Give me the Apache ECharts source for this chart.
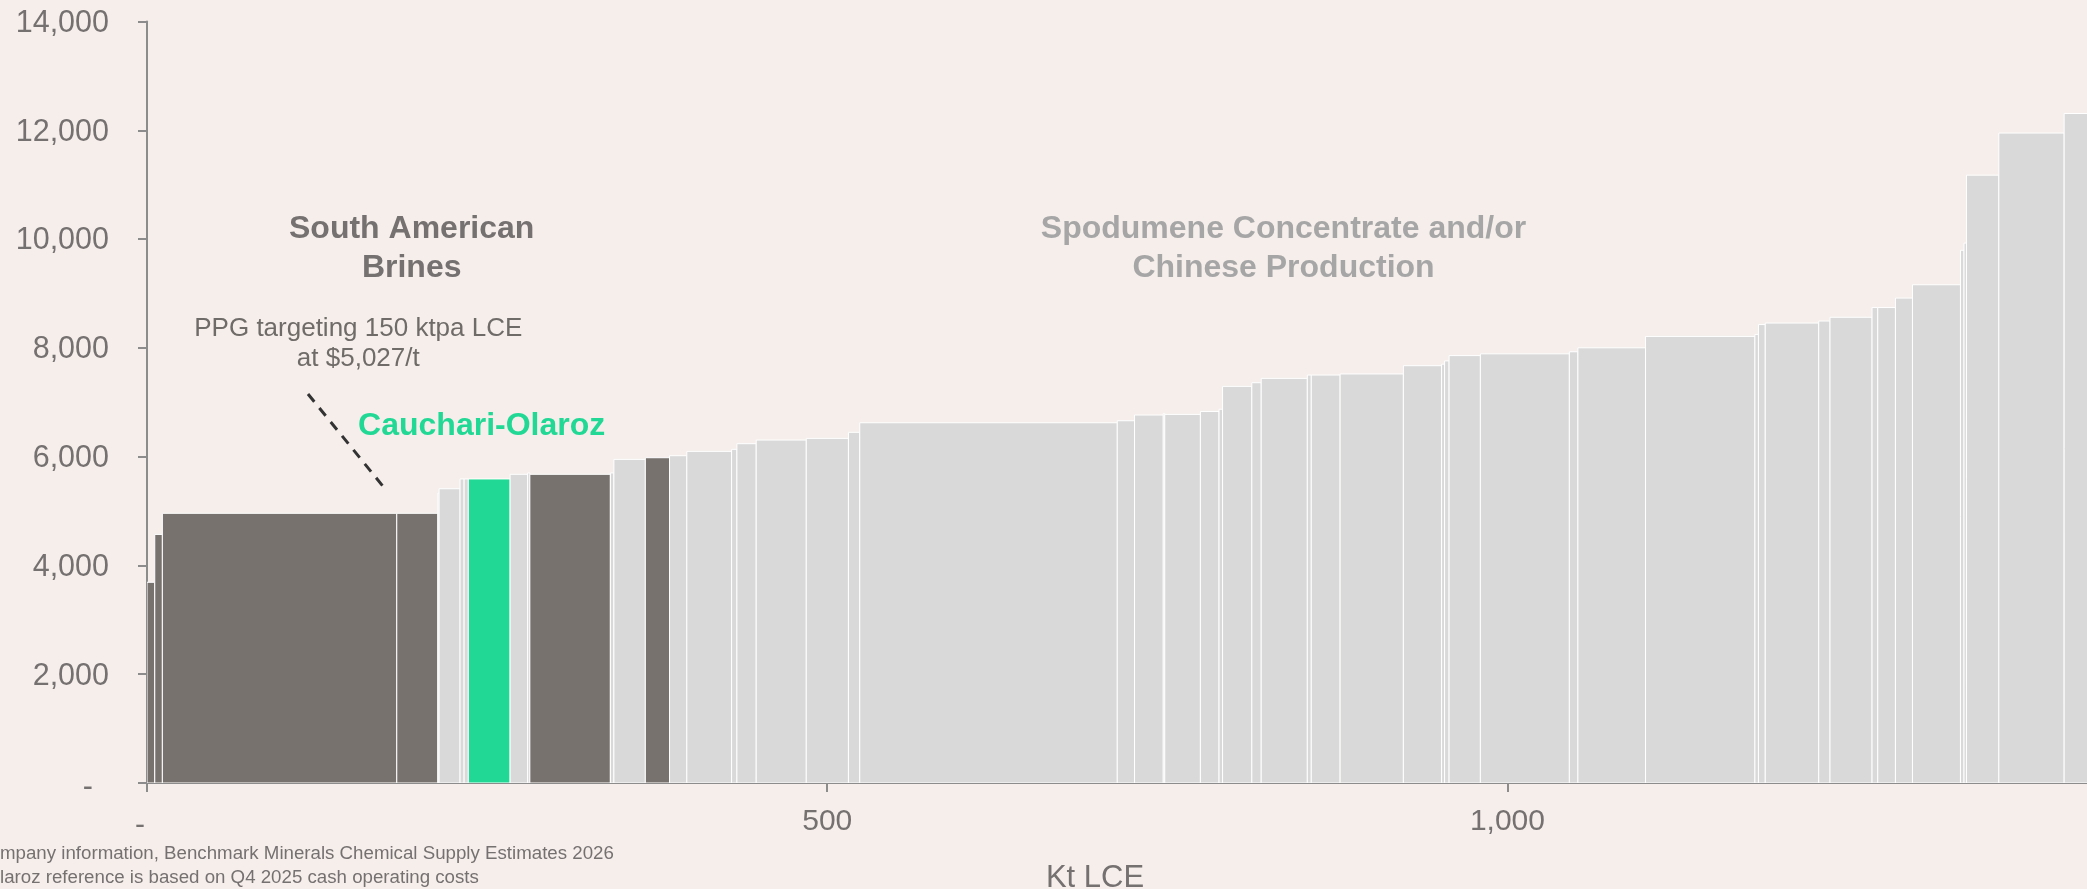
<!DOCTYPE html>
<html>
<head>
<meta charset="utf-8">
<script src="https://cdn.jsdelivr.net/npm/echarts@6/dist/echarts.min.js"></script>
<style>
html,body{margin:0;padding:0;background:#f5eeeb;}
#c{width:2087px;height:889px;}
</style>
</head>
<body>
<div id="c"></div>
<script>
// Capacity of each operation (Kt LCE), in cost order
const capacity = [5.7, 5.6, 172.3, 30.2, 0.9, 15.4, 3.0, 3.1, 30.7, 12.9, 1.6, 59.2, 2.6, 23.1, 17.8,
  12.7, 32.9, 3.9, 14.2, 36.8, 31.0, 8.3, 189.3, 12.7, 21.1, 1.1, 26.2, 13.7, 2.6, 21.5,
  6.9, 33.9, 2.9, 21.2, 46.5, 28.1, 2.2, 3.3, 23.0, 65.4, 6.3, 49.7, 80.4, 2.6, 5.0,
  39.3, 8.3, 30.9, 4.2, 13.0, 12.5, 35.3, 2.6, 1.8, 23.8, 48.0, 26.0];
// Cash cost (US$/t LCE)
const cost = [3690, 4570, 4958, 4958, 5330, 5410, 5590, 5590, 5590, 5675, 5700, 5675, 5700, 5950, 5980,
  6017, 6097, 6134, 6238, 6305, 6336, 6447, 6623, 6660, 6765, 6796, 6777, 6831, 6871, 7292,
  7359, 7439, 7500, 7500, 7520, 7672, 7700, 7760, 7858, 7890, 7928, 8001, 8210, 8247, 8428,
  8456, 8493, 8562, 8741, 8741, 8915, 9160, 9794, 9926, 11175, 11949, 12309];
// Group: 0 = other (spodumene / Chinese), 1 = South American brines, 2 = Cauchari-Olaroz
const group = [1, 1, 1, 1, 0, 0, 0, 0, 2, 0, 0, 1, 0, 0, 1,
  0, 0, 0, 0, 0, 0, 0, 0, 0, 0, 0, 0, 0, 0, 0,
  0, 0, 0, 0, 0, 0, 0, 0, 0, 0, 0, 0, 0, 0, 0,
  0, 0, 0, 0, 0, 0, 0, 0, 0, 0, 0, 0];
const yTicks = [0, 2000, 4000, 6000, 8000, 10000, 12000, 14000];
const xTicks = [0, 500, 1000];

const groupColors = ['#d9d9d9', '#78726f', '#21d994'];

const data = [];
let cum = 0;
for (let i = 0; i < capacity.length; i++) {
  data.push([cum, cum + capacity[i], cost[i], group[i]]);
  cum += capacity[i];
}

const FONT = 'Liberation Sans, Arial, Helvetica, sans-serif';
const LABEL = '#767171';

function yFmt(v) {
  if (yTicks.indexOf(v) < 0) return '';
  if (v === 0) return '{d|-}';
  return '{n|' + v.toLocaleString('en-US') + '}';
}
function xFmt(v) {
  if (xTicks.indexOf(v) < 0) return '';
  if (v === 0) return '{d|-}';
  return '{n|' + v.toLocaleString('en-US') + '}';
}

const chart = echarts.init(document.getElementById('c'), null, {renderer: 'canvas'});

function txt(text, x, y, size, color, weight, align) {
  return {
    type: 'text', x: x, y: y, silent: true,
    style: {text: text, fill: color, font: (weight || 'normal') + ' ' + size + 'px ' + FONT,
      align: align || 'center', verticalAlign: 'middle'}
  };
}

chart.setOption({
  backgroundColor: '#f5eeeb',
  animation: false,
  grid: {left: 147, right: 0, top: 21.5, bottom: 106, containLabel: false},
  xAxis: {
    type: 'value', min: 0, max: 1426, interval: 500,
    axisLine: {show: true, lineStyle: {color: '#8c8c8c', width: 2}},
    axisTick: {show: true, length: 9, lineStyle: {color: '#8c8c8c', width: 2}},
    splitLine: {show: false},
    axisLabel: {
      margin: 24, fontSize: 30, color: LABEL, fontFamily: FONT, showMaxLabel: false,
      formatter: xFmt,
      rich: {
        n: {fontSize: 30, color: LABEL, fontFamily: FONT},
        d: {fontSize: 30, color: LABEL, fontFamily: FONT, padding: [4, 14, 0, 0]}
      }
    }
  },
  yAxis: {
    type: 'value', min: 0, max: 14000, interval: 2000,
    axisLine: {show: true, lineStyle: {color: '#8c8c8c', width: 2}},
    axisTick: {show: true, length: 9, lineStyle: {color: '#8c8c8c', width: 2}},
    splitLine: {show: false},
    axisLabel: {
      margin: 38, fontSize: 30, color: LABEL, fontFamily: FONT,
      formatter: yFmt,
      rich: {
        n: {fontSize: 30.5, color: LABEL, fontFamily: FONT, padding: [4, 0, 0, 0]},
        d: {fontSize: 30.5, color: LABEL, fontFamily: FONT, padding: [9, 16, 0, 0]}
      }
    }
  },
  series: [{
    type: 'custom',
    clip: true,
    encode: {x: [0, 1], y: 2},
    data: data,
    renderItem: function (params, api) {
      const x0 = api.value(0), x1 = api.value(1), y = api.value(2), g = api.value(3);
      const p0 = api.coord([x0, y]);
      const p1 = api.coord([x1, 0]);
      return {
        type: 'rect',
        shape: {x: p0[0], y: p0[1], width: p1[0] - p0[0], height: p1[1] - p0[1]},
        style: {fill: groupColors[g], stroke: '#ffffff', lineWidth: 1}
      };
    }
  }],
  graphic: [
    txt('South American', 411.7, 229, 32, LABEL, 'bold'),
    txt('Brines', 411.7, 268, 32, LABEL, 'bold'),
    txt('PPG targeting 150 ktpa LCE', 358.3, 328.5, 26, '#6f6b68'),
    txt('at $5,027/t', 358.3, 358.5, 26, '#6f6b68'),
    txt('Cauchari-Olaroz', 481.7, 426.5, 32, '#21d994', 'bold'),
    txt('Spodumene Concentrate and/or', 1283.5, 229, 32, '#a6a6a6', 'bold'),
    txt('Chinese Production', 1283.5, 268, 32, '#a6a6a6', 'bold'),
    txt('Kt LCE', 1095, 878, 31, LABEL),
    txt('mpany information, Benchmark Minerals Chemical Supply Estimates 2026', 0, 854, 18.7, LABEL, 'normal', 'left'),
    txt('laroz reference is based on Q4 2025 cash operating costs', 0, 878, 18.7, LABEL, 'normal', 'left'),
    {
      type: 'line', silent: true,
      shape: {x1: 308, y1: 394, x2: 386, y2: 490},
      style: {stroke: '#333333', lineWidth: 3, lineDash: [10, 8]}
    }
  ]
});
</script>
</body>
</html>
